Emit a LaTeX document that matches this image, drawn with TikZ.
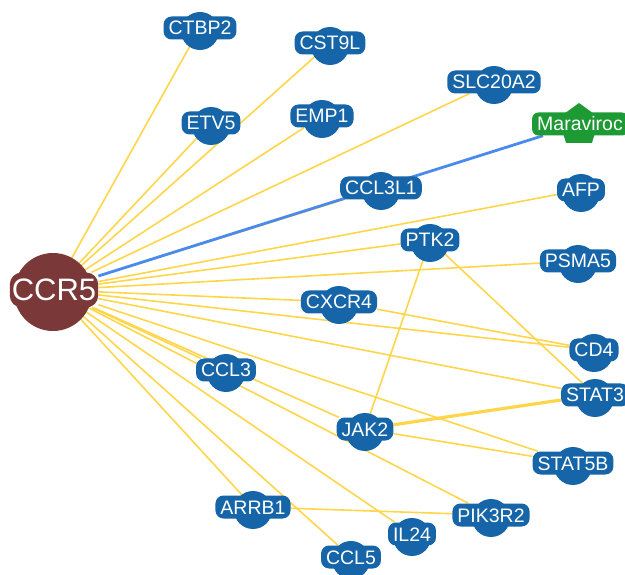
\documentclass[tikz,border=0pt]{standalone}
\usepackage{fontspec}
\setmainfont{Liberation Sans}
\usetikzlibrary{backgrounds,shapes.geometric}
\definecolor{geneblue}{HTML}{1565A8}
\definecolor{hubbrown}{HTML}{7A3838}
\definecolor{druggreen}{HTML}{1E9A34}
\definecolor{linkyellow}{HTML}{FFD54A}
\definecolor{drugline}{HTML}{4A8AEC}

\begin{document}
\begin{tikzpicture}[x=1pt, y=-1pt,
  gene/.style={fill=geneblue, text=white, rounded corners=8pt, inner xsep=5pt, inner ysep=4.5pt,
    text height=14pt, text depth=0pt, font=\fontsize{19.5}{20}\selectfont},
  bulge/.style={circle, fill=geneblue, minimum size=38pt, inner sep=0pt},
  hub/.style={gene, fill=hubbrown, rounded corners=12pt, inner xsep=2pt, inner ysep=6.5pt,
    text height=22pt, font=\fontsize{31}{32}\selectfont},
  hubbulge/.style={circle, fill=hubbrown, minimum size=78pt, inner sep=0pt},
  drug/.style={gene, fill=druggreen, rounded corners=6pt},
  drugbulge/.style={regular polygon, regular polygon sides=5, fill=druggreen, minimum size=44pt, inner sep=0pt},
  link/.style={draw=linkyellow, line width=1.6pt},
  druglink/.style={draw=drugline, line width=2.8pt}]
	\useasboundingbox (0,0) rectangle (625,575);

	% hub receptor
	\node[hubbulge] (ccr5-bg) at (53,292) {};
	\node[hub] (ccr5) at (54,290) {CCR5};

	% partner genes
	\foreach \nm/\x/\y/\txt in {ctbp2/200/28/CTBP2, cst9l/330/43/CST9L, etv5/211/123/ETV5, emp1/322/116/EMP1,
		slc20a2/494/82/SLC20A2, ccl3l1/381/188/CCL3L1, afp/581/190/AFP, ptk2/430/240/PTK2,
		psma5/578/261/PSMA5, cxcr4/339/302/CXCR4, cd4/594/350/CD4, ccl3/226/370/CCL3,
		stat3/595/395/STAT3, jak2/365/429/JAK2, stat5b/573/463/STAT5B, arrb1/253/507/ARRB1,
		pik3r2/491/515/PIK3R2, il24/412/534/IL24, ccl5/351/557/CCL5}
	{
		\node[bulge] (\nm-bg) at (\x,\y+3) {};
		\node[gene] (\nm) at (\x,\y) {\txt};
	}

	% drug
	\node[drugbulge] (maraviroc-bg) at (579,125) {};
	\node[drug] (maraviroc) at (580,124) {Maraviroc};

	% interactions
	\begin{pgfonlayer}{background}
		\foreach \nm in {ctbp2, cst9l, etv5, emp1, slc20a2, ccl3l1, afp, ptk2, psma5, cxcr4, cd4,
			ccl3, stat3, jak2, stat5b, arrb1, pik3r2, il24, ccl5}
			\draw[link] (ccr5) -- (\nm);
		\draw[link] (ptk2) -- (jak2);
		\draw[link] (ptk2) -- (stat3);
		\draw[link] (cxcr4) -- (cd4);
		\draw[link] (jak2) -- (stat5b);
		\draw[link, line width=3.2pt] (jak2) -- (stat3);
		\draw[link] (arrb1) -- (pik3r2);
		\draw[druglink] (ccr5) -- (maraviroc);
	\end{pgfonlayer}
\end{tikzpicture}
\end{document}
